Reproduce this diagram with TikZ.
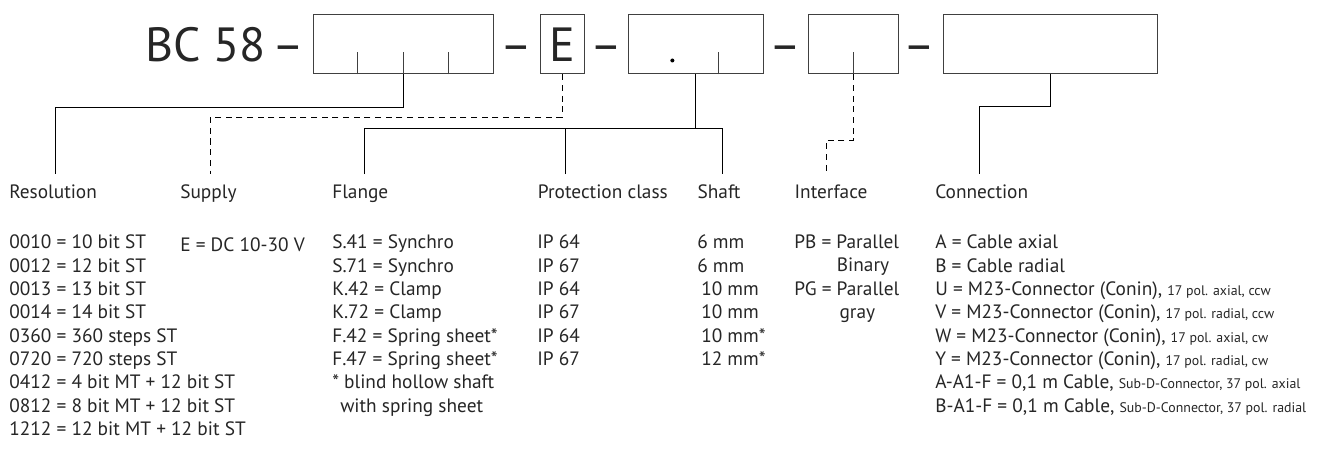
\documentclass[tikz,border=0pt]{standalone}
\usepackage{fontspec}
\setmainfont{PT Sans}
\usetikzlibrary{calc}

\newcommand{\smallpart}[1]{{\fontsize{10.4}{17.5}\selectfont #1}}

\begin{document}
\begin{tikzpicture}[
    x=0.75pt, y=-0.75pt,
    slot/.style={
        rectangle, draw=black!75, line width=0.75pt,
        minimum height=44.25pt, inner sep=0pt,
        font=\fontsize{36}{40}\selectfont, text=black!85
    },
    big/.style={inner sep=0pt, font=\fontsize{36}{40}\selectfont, text=black!85},
    head/.style={anchor=base west, inner sep=0pt, font=\fontsize{14.5}{17.5}\selectfont, text=black!85},
    list/.style={anchor=north west, inner sep=0pt, align=left, font=\fontsize{14.5}{17.5}\selectfont,
        text=black!85, execute at begin node=\strut},
    lead/.style={line width=0.75pt},
    opt/.style={lead, dash pattern=on 4.5pt off 3.5pt},
    tick/.style={line width=0.75pt, black!75}
]

\fill[white] (0,0) rectangle (1319,456);

\node[big, anchor=base west] (code) at (145,62)  {BC 58};
\node[big, anchor=base]      (d1)   at (288,62)  {–};
\node[slot, minimum width=135pt]    (bres)  at (403,44.5)   {};
\node[big, anchor=base]      (d2)   at (516,62)  {–};
\node[slot, minimum width=33pt]     (bsup)  at (562,44.5)   {E};
\node[big, anchor=base]      (d3)   at (606.5,62) {–};
\node[slot, minimum width=101.25pt] (bmech) at (695.5,44.5) {};
\node[big, anchor=base]      (d4)   at (785,62)  {–};
\node[slot, minimum width=67.5pt]   (bif)   at (853,44.5)   {};
\node[big, anchor=base]      (d5)   at (919,62)  {–};
\node[slot, minimum width=160.5pt]  (bcon)  at (1050,44.5)  {};

\foreach \f in {0.25,0.5,0.75}
    \draw[tick] ($(bres.south west)!\f!(bres.south east)$) -- ++(0,-22);
\draw[tick] ($(bmech.south west)!0.67!(bmech.south east)$) -- ++(0,-22);
\fill ($(bmech.south west)!0.33!(bmech.south east)$) ++(0,-14) circle (1.5pt);
\draw[tick] (bif.south) -- ++(0,-22);

\node[head] (hres) at (9,198)     {Resolution};
\node[head] (hsup) at (180,198)   {Supply};
\node[head] (hflg) at (332,198)   {Flange};
\node[head] (hpro) at (537.7,198) {Protection class};
\node[head] (hsha) at (697.3,198) {Shaft};
\node[head] (hif)  at (794.3,198) {Interface};
\node[head] (hcon) at (935,198)   {Connection};

\coordinate (tres) at (55,174);
\coordinate (tsup) at (210,174);
\coordinate (tflg) at (364,174);
\coordinate (tpro) at (565,174);
\coordinate (tsha) at (722,174);
\coordinate (tif)  at (826,174);
\coordinate (tcon) at (979,174);

\draw[lead] (bres.south)  -- ++(0,33) -| (tres);
\draw[opt]  (bsup.south)  -- ++(0,43) -| (tsup);
\draw[lead] (bmech.south) -- ++(0,55);
\draw[lead] (tflg) -- ++(0,-45) -| (tsha);
\draw[lead] (tpro) -- ++(0,-45);
\draw[opt]  (bif.south)   -- ++(0,66) -| (tif);
\draw[lead] (bcon.south)  -- ++(0,32) -| (tcon);

\node[list] (lres) at (9,234.7) {0010 = 10 bit ST\\0012 = 12 bit ST\\0013 = 13 bit ST\\0014 = 14 bit ST\\0360 = 360 steps ST\\0720 = 720 steps ST\\0412 = 4 bit MT + 12 bit ST\\0812 = 8 bit MT + 12 bit ST\\1212 = 12 bit MT + 12 bit ST};
\node[list] (lsup) at (180,234.7) {E = DC 10-30 V};
\node[list] (lflg) at (332,234.7) {S.41 = Synchro\\S.71 = Synchro\\K.42 = Clamp\\K.72 = Clamp\\F.42 = Spring sheet*\\F.47 = Spring sheet*\\{*} blind hollow shaft\\\hspace*{6pt}with spring sheet};
\node[list] (lpro) at (537,234.7) {IP 64\\IP 67\\IP 64\\IP 67\\IP 64\\IP 67};
\node[list] (lsha) at (697,234.7) {6 mm\\6 mm\\\hspace*{3pt}10 mm\\\hspace*{3pt}10 mm\\\hspace*{3pt}10 mm*\\\hspace*{3pt}12 mm*};
\node[list] (lif)  at (794,234.7) {PB = Parallel\\\hspace*{32pt}Binary\\PG = Parallel\\\hspace*{34pt}gray};
\node[list] (lcon) at (935,234.7) {A = Cable axial\\B = Cable radial\\U = M23-Connector (Conin), \smallpart{17 pol. axial, ccw}\\V = M23-Connector (Conin), \smallpart{17 pol. radial, ccw}\\W = M23-Connector (Conin), \smallpart{17 pol. axial, cw}\\Y = M23-Connector (Conin), \smallpart{17 pol. radial, cw}\\A-A1-F = 0,1 m Cable, \smallpart{Sub-D-Connector, 37 pol. axial}\\B-A1-F = 0,1 m Cable, \smallpart{Sub-D-Connector, 37 pol. radial}};

\end{tikzpicture}
\end{document}
